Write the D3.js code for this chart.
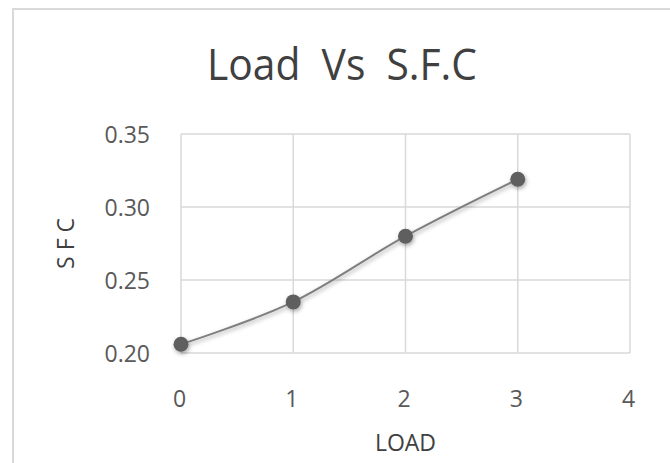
<!DOCTYPE html>
<html>
<head>
<meta charset="utf-8">
<script src="https://cdn.jsdelivr.net/npm/d3@7"></script>
<style>
  html, body { margin: 0; padding: 0; background: #ffffff; }
  svg { display: block; }
  text { font-family: "Open Sans", "Noto Sans", sans-serif; white-space: pre; }
</style>
</head>
<body>
<svg id="chart" width="670" height="463"></svg>
<script>
// Load vs specific fuel consumption
const loads = [0, 1, 2, 3];
const sfcValues = [0.206, 0.235, 0.280, 0.319];
const xTicks = [0, 1, 2, 3, 4];
const yTicks = [0.20, 0.25, 0.30, 0.35];
const titleText = "Load  Vs  S.F.C";
const xTitle = "LOAD";
const yTitle = "S F C";

const svg = d3.select("#chart");
const plot = { left: 181, right: 630, top: 134, bottom: 353 };

const x = d3.scaleLinear().domain([0, 4]).range([plot.left, plot.right]);
const y = d3.scaleLinear().domain([0.20, 0.35]).range([plot.bottom, plot.top]);

// soft shadow under the series
const defs = svg.append("defs");
const shadow = defs.append("filter").attr("id", "shadow")
  .attr("x", "-50%").attr("y", "-50%").attr("width", "200%").attr("height", "200%");
shadow.append("feDropShadow")
  .attr("dx", 1).attr("dy", 2).attr("stdDeviation", 2)
  .attr("flood-color", "#000").attr("flood-opacity", 0.35);

// chart frame
svg.append("rect")
  .attr("x", 13).attr("y", 9).attr("width", 700).attr("height", 500)
  .attr("fill", "#ffffff").attr("stroke", "#d9d9d9").attr("stroke-width", 2);

// title
svg.append("text")
  .attr("x", 342).attr("y", 80)
  .attr("text-anchor", "middle")
  .attr("font-size", 44)
  .attr("textLength", 270).attr("lengthAdjust", "spacingAndGlyphs")
  .attr("fill", "#404040")
  .text(titleText);

// gridlines
const grid = svg.append("g").attr("stroke", "#d9d9d9").attr("stroke-width", 1.5);
grid.selectAll("line.h").data(yTicks).join("line")
  .attr("x1", plot.left).attr("x2", plot.right)
  .attr("y1", d => y(d)).attr("y2", d => y(d));
grid.selectAll("line.v").data(xTicks).join("line")
  .attr("y1", plot.top).attr("y2", plot.bottom)
  .attr("x1", d => x(d)).attr("x2", d => x(d));

// axes (labels only; lines drawn by the grid)
const yAxis = svg.append("g")
  .attr("transform", `translate(${plot.left},0)`)
  .call(d3.axisLeft(y).tickValues(yTicks).tickFormat(d3.format(".2f")).tickSize(0).tickPadding(31));
const xAxis = svg.append("g")
  .attr("transform", `translate(0,${plot.bottom})`)
  .call(d3.axisBottom(x).tickValues(xTicks).tickFormat(d3.format("d")).tickSize(0).tickPadding(38));
[yAxis, xAxis].forEach(a => {
  a.select(".domain").remove();
  a.selectAll("text").attr("font-size", 23).attr("fill", "#595959")
    .style("font-family", "\"Open Sans\", sans-serif");
});
yAxis.selectAll("text").attr("dy", "0.36em");
xAxis.selectAll("text").attr("dy", "0.71em").attr("dx", -2);

// axis titles
svg.append("text")
  .attr("x", (plot.left + plot.right) / 2).attr("y", 451)
  .attr("text-anchor", "middle").attr("font-size", 23).attr("fill", "#404040")
  .text(xTitle);
svg.append("text")
  .attr("transform", `translate(74,${(plot.top + plot.bottom) / 2}) rotate(-90)`)
  .attr("text-anchor", "middle").attr("font-size", 23).attr("fill", "#404040")
  .text(yTitle);

// series
const data = loads.map((l, i) => ({ load: l, sfc: sfcValues[i] }));
const line = d3.line()
  .x(d => x(d.load)).y(d => y(d.sfc))
  .curve(d3.curveCatmullRom.alpha(0));

const series = svg.append("g").attr("filter", "url(#shadow)");
series.append("path")
  .datum(data)
  .attr("d", line)
  .attr("fill", "none").attr("stroke", "#7f7f7f").attr("stroke-width", 2);
series.selectAll("circle").data(data).join("circle")
  .attr("cx", d => x(d.load)).attr("cy", d => y(d.sfc))
  .attr("r", 7.5)
  .attr("fill", "#5f5f5f");
</script>
</body>
</html>
